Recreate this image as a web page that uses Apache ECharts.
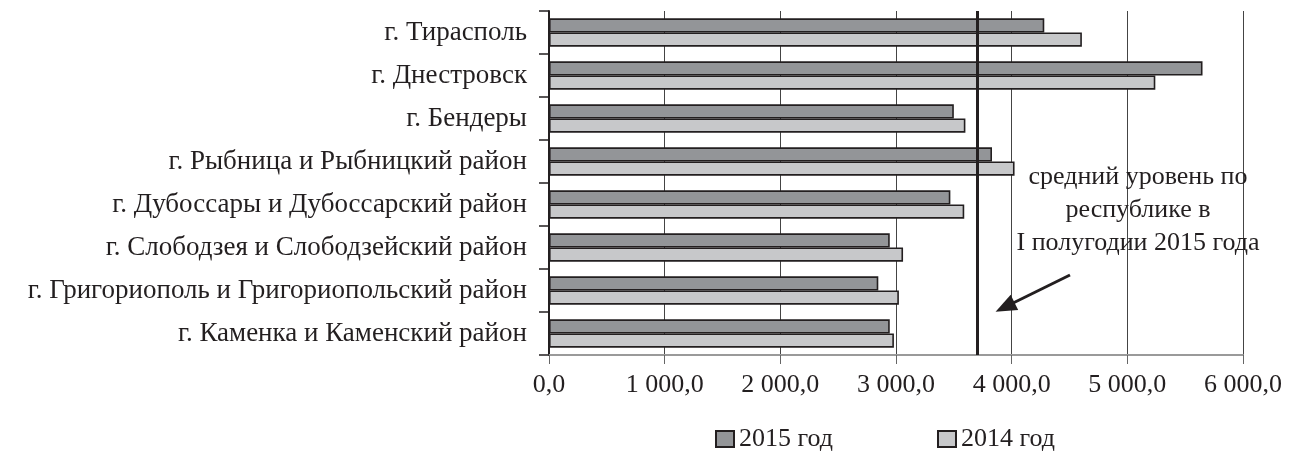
<!DOCTYPE html>
<html>
<head>
<meta charset="utf-8">
<script src="https://cdn.jsdelivr.net/npm/echarts@6/dist/echarts.min.js"></script>
<style>
  html, body { margin: 0; padding: 0; background: #fff; }
  #chart { width: 1295px; height: 451px; }
</style>
</head>
<body>
<div id="chart"></div>
<script>
// Districts, top to bottom
const categories = [
  'г. Тирасполь',
  'г. Днестровск',
  'г. Бендеры',
  'г. Рыбница и Рыбницкий район',
  'г. Дубоссары и Дубоссарский район',
  'г. Слободзея и Слободзейский район',
  'г. Григориополь и Григориопольский район',
  'г. Каменка и Каменский район'
];
const values2015 = [4282, 5650, 3500, 3830, 3470, 2946, 2847, 2946];
const values2014 = [4607, 5242, 3600, 4025, 3590, 3061, 3025, 2982];
// Republic average, first half of 2015
const averageLevel = 3700;
const xTickLabels = ['0,0', '1 000,0', '2 000,0', '3 000,0', '4 000,0', '5 000,0', '6 000,0'];
const annotationLines = ['средний уровень по', 'республике в', 'I полугодии 2015 года'];

const FONT = '"Liberation Serif", "DejaVu Serif", serif';
const INK = '#231f20';

const chart = echarts.init(document.getElementById('chart'), null, { renderer: 'canvas' });

chart.setOption({
  animation: false,
  backgroundColor: '#fff',
  textStyle: { fontFamily: FONT, color: INK },
  grid: { left: 549, right: 52, top: 11, bottom: 96, containLabel: false },
  legend: {
    left: 715,
    top: 426,
    padding: 0,
    itemWidth: 18,
    itemHeight: 16,
    itemGap: 104,
    icon: 'rect',
    textStyle: { fontFamily: FONT, fontSize: 26, color: INK },
    data: ['2015 год', '2014 год']
  },
  xAxis: {
    type: 'value',
    min: 0,
    max: 6000,
    interval: 1000,
    axisLine: { show: true, lineStyle: { color: '#9a9a9a', width: 2 } },
    axisTick: { show: true, length: 9, lineStyle: { color: '#666', width: 1 } },
    splitLine: { show: true, lineStyle: { color: '#444', width: 1 } },
    axisLabel: {
      margin: 17,
      fontFamily: FONT,
      fontSize: 26,
      color: INK,
      formatter: v => xTickLabels[Math.round(v / 1000)]
    }
  },
  yAxis: {
    type: 'category',
    inverse: true,
    data: categories,
    axisLine: { show: true, lineStyle: { color: INK, width: 2 } },
    axisTick: { show: true, length: 10, lineStyle: { color: INK, width: 1.5 } },
    axisLabel: { margin: 22, fontFamily: FONT, fontSize: 27, color: INK },
    splitLine: { show: false }
  },
  series: [
    {
      name: '2015 год',
      type: 'bar',
      data: values2015,
      barGap: '0%',
      barCategoryGap: '34%',
      itemStyle: { color: '#939598', borderColor: INK, borderWidth: 1.6 },
      z: 3,
      markLine: {
        silent: true,
        symbol: ['none', 'none'],
        label: { show: false },
        lineStyle: { color: INK, width: 3, type: 'solid' },
        data: [{ xAxis: averageLevel }],
        z: 5
      }
    },
    {
      name: '2014 год',
      type: 'bar',
      data: values2014,
      barGap: '0%',
      barCategoryGap: '34%',
      itemStyle: { color: '#c7c8ca', borderColor: INK, borderWidth: 1.6 },
      z: 3,
      markLine: {
        silent: true,
        symbol: ['none', 'triangle'],
        symbolSize: [17, 21],
        label: { show: false },
        lineStyle: { color: INK, width: 3, type: 'solid' },
        data: [[{ x: 1070, y: 275 }, { x: 1005, y: 307 }]],
        z: 5
      }
    }
  ],
  graphic: [
    {
      type: 'text',
      x: 1138,
      y: 161,
      style: {
        text: annotationLines.join('\n'),
        x: 0,
        y: 0,
        align: 'center',
        textAlign: 'center',
        font: '26px ' + FONT,
        fill: INK,
        lineHeight: 33
      },
      z: 10
    }
  ]
});
</script>
</body>
</html>
